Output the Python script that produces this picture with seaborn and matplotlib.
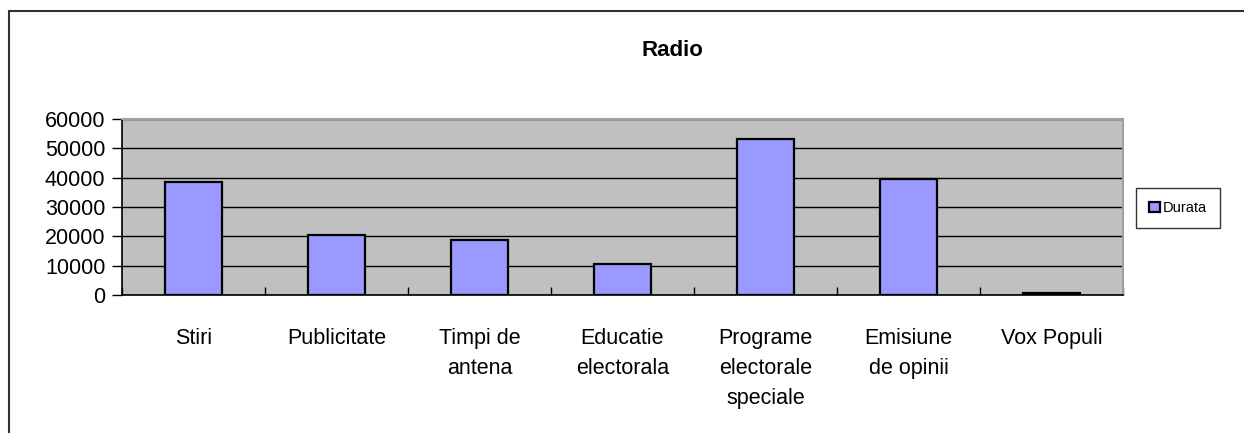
import numpy as np
import pandas as pd
import matplotlib
matplotlib.use("Agg")
import matplotlib.pyplot as plt
import seaborn as sns
from matplotlib.lines import Line2D

categories = ["Stiri", "Publicitate", "Timpi de\nantena", "Educatie\nelectorala",
              "Programe\nelectorale\nspeciale", "Emisiune\nde opinii", "Vox Populi"]
durata = [38500, 20500, 18850, 10550, 53250, 39600, 700]
y_ticks = [0, 10000, 20000, 30000, 40000, 50000, 60000]

df = pd.DataFrame({"categorie": categories, "Durata": durata})

sns.set_style("white")
plt.rcParams["font.family"] = ["Liberation Sans", "DejaVu Sans"]
plt.rcParams["text.color"] = "black"
plt.rcParams["xtick.color"] = "black"
plt.rcParams["ytick.color"] = "black"

fig = plt.figure(figsize=(12.44, 4.33), dpi=100)
ax = fig.add_axes([122 / 1244, 1 - 295 / 433, (1123 - 122) / 1244, (295 - 119) / 433])
ax.set_facecolor("#C0C0C0")

sns.barplot(data=df, x="categorie", y="Durata", color="#9999FF", edgecolor="black",
            linewidth=1.6, width=0.4, saturation=1, label="Durata", ax=ax, zorder=3)

ax.set_ylim(0, 60000)
ax.set_xlim(-0.5, len(categories) - 0.5)
ax.set_yticks(y_ticks)
ax.set_yticklabels([str(v) for v in y_ticks], fontsize=15.5)
ax.grid(axis="y", color="black", linewidth=1.0, zorder=1)
ax.set_axisbelow(True)
ax.tick_params(axis="y", which="major", direction="out", length=7, width=1, color="black",
               labelcolor="black", pad=5, left=True)
ax.tick_params(axis="x", which="major", length=0, pad=24, labelsize=15.5, labelcolor="black")
ax.set_xticks(np.arange(-0.5, len(categories), 1), minor=True)
ax.tick_params(axis="x", which="minor", direction="in", length=6, width=1, color="black", bottom=True)
for lbl in ax.get_xticklabels():
    lbl.set_linespacing(1.55)
    lbl.set_va("top")
ax.set_xlabel("")
ax.set_ylabel("")

for side in ["top", "right"]:
    ax.spines[side].set_color("#A0A0A0")
    ax.spines[side].set_linewidth(1.5)
for side in ["left", "bottom"]:
    ax.spines[side].set_color("black")
    ax.spines[side].set_linewidth(1.2)

fig.text(672 / 1244, 1 - 50 / 433, "Radio", ha="center", va="center", fontsize=16,
         fontweight="bold", color="black")

leg = ax.legend(loc="center", bbox_to_anchor=(1178 / 1244, 1 - 208 / 433), bbox_transform=fig.transFigure,
                fontsize=10.5, frameon=True, fancybox=False, edgecolor="black", handlelength=0.7,
                handleheight=0.7, handletextpad=0.2, borderpad=0.9, borderaxespad=0)
leg.get_frame().set_linewidth(1.0)
for t in leg.get_texts():
    t.set_color("black")

# chart area border (top and left visible)
fig.add_artist(Line2D([9 / 1244, 1.0], [1 - 11 / 433, 1 - 11 / 433], transform=fig.transFigure,
                      color="#303030", linewidth=1.5))
fig.add_artist(Line2D([9 / 1244, 9 / 1244], [0.0, 1 - 11 / 433], transform=fig.transFigure,
                      color="#303030", linewidth=1.5))

fig.savefig("out.png", dpi=100)
